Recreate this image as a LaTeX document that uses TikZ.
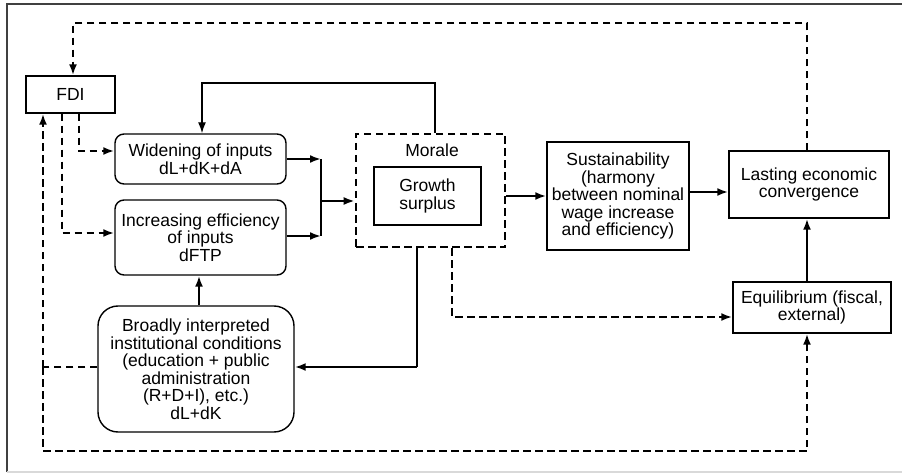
\documentclass[tikz,border=0pt]{standalone}
\usepackage{fontspec}
\setmainfont{Liberation Sans}
\usetikzlibrary{arrows.meta,calc}
\begin{document}
\begin{tikzpicture}[x=1pt,y=-1pt,
  box/.style={draw, line width=1.4pt, align=center, inner sep=0pt,
    font=\fontsize{17.5}{17.5}\selectfont},
  rbox/.style={box, rounded corners=9pt},
  tip/.style={-{Latex[length=11pt,width=8pt]}},
  thk/.style={line width=2.8pt, tip},
  thn/.style={line width=1.4pt},
  dsh/.style={line width=2.6pt, dash pattern=on 7.5pt off 4.5pt},
  darr/.style={dsh, tip}]
\useasboundingbox (0,0) rectangle (902,473);
% frame
\draw[line width=1.8pt, black!75] (7,472) -- (7,4) -- (902,4);
\draw[line width=1.4pt, black!15] (7,472) -- (902,472);
% nodes
\node[box, minimum width=89pt, minimum height=37pt] (fdi) at (70.5,94.5) {FDI};
\node[rbox, minimum width=171pt, minimum height=50pt] (wid) at (200.5,159) {Widening of inputs\\dL+dK+dA};
\node[rbox, minimum width=171pt, minimum height=75pt] (inc) at (200.5,237.5) {Increasing efficiency\\of inputs\\dFTP};
\node[box, rounded corners=20pt, minimum width=196pt, minimum height=126pt] (bro) at (196,369) {Broadly interpreted\\institutional conditions\\(education + public\\administration\\(R+D+I), etc.)\\dL+dK};
\node[draw, dsh, minimum width=149pt, minimum height=113pt, inner sep=0pt] (mor) at (430.5,190.5) {};
\node[font=\fontsize{17.5}{17.5}\selectfont, inner sep=0pt] (morl) at (432,150) {Morale};
\node[box, minimum width=107pt, minimum height=58pt] (gro) at (427.5,196) {Growth\\surplus};
\node[box, minimum width=142pt, minimum height=108pt] (sus) at (618,196) {Sustainability\\(harmony\\between nominal\\wage increase\\and efficiency)};
\node[box, minimum width=160pt, minimum height=67pt] (las) at (809,184.5) {Lasting economic\\convergence};
\node[box, minimum width=158pt, minimum height=51pt] (equ) at (812,307.5) {Equilibrium (fiscal,\\external)};
% helper coordinates
\coordinate (j1) at (321,159);
\coordinate (j2) at (321,236);
\coordinate (j3) at (321,201);
\coordinate (y192) at (0,192);
\coordinate (x807) at (807,0);
\coordinate (x199) at (199,0);
\coordinate (tl) at (73,23);
\coordinate (tr) at (807,23);
\coordinate (fb1) at (435,83);
\coordinate (fb2) at (202,83);
\coordinate (fa) at (79,151);
\coordinate (fb) at (62,233);
\coordinate (ml) at (43,367);
\coordinate (bl) at (43,451);
\coordinate (br) at (807,451);
\coordinate (sm) at (417,367);
\coordinate (dm) at (452,317);
% solid connectors
\draw[thk] (wid.east |- j1) -- (j1);
\draw[thk] (inc.east |- j2) -- (j2);
\draw[thn] (j1) -- (j2);
\draw[thk] (j3) -- (mor.west |- j3);
\draw[thk] (mor.east |- sus.west) -- (sus.west);
\draw[thk] (sus.east |- y192) -- (las.west |- y192);
\draw[thk] (equ.north -| x807) -- (las.south -| x807);
\draw[thk] (bro.north -| x199) -- (inc.south -| x199);
\draw[thn, tip] (mor.north -| fb1) -- (fb1) -- (fb2) -- (wid.north -| fb2);
\draw[thn] (mor.south -| sm) -- (sm);
\draw[thk] (sm) -- (bro.east |- sm);
% dashed connectors
\draw[darr] (las.north -| tr) -- (tr) -- (tl) -- (fdi.north -| tl);
\draw[darr] (fdi.south -| fa) -- (fa) -- (wid.west |- fa);
\draw[darr] (fdi.south -| fb) -- (fb) -- (inc.west |- fb);
\draw[dsh] (bro.west |- ml) -- (ml);
\draw[darr] (ml) -- (fdi.south -| ml);
\draw[darr] (ml) -- (bl) -- (br) -- (equ.south -| br);
\draw[darr] (mor.south -| dm) -- (dm) -- (equ.west |- dm);
\end{tikzpicture}
\end{document}
